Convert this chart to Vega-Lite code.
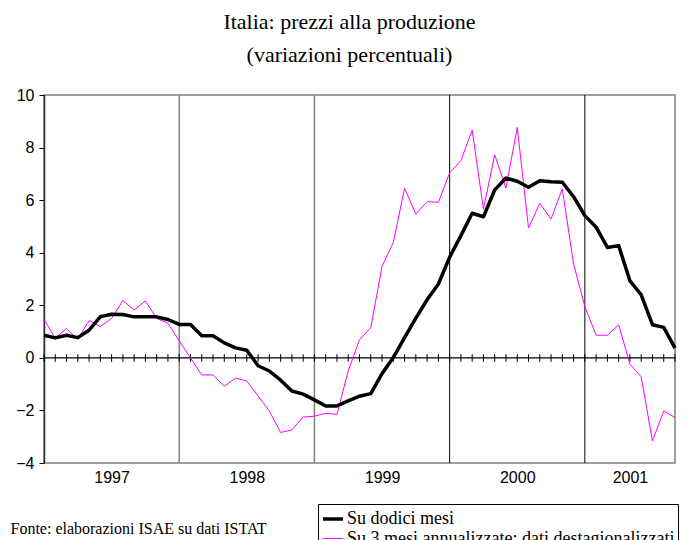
{
  "$schema": "https://vega.github.io/schema/vega-lite/v6.json",
  "width": 631,
  "height": 368,
  "autosize": "none",
  "padding": {"left": 44, "top": 95, "right": 16, "bottom": 77},
  "background": "white",
  "config": {
    "view": {"stroke": "#808080", "strokeWidth": 1.5},
    "font": "Liberation Sans"
  },
  "title": {
    "text": ["Italia: prezzi alla produzione", "(variazioni percentuali)"],
    "font": "Liberation Serif",
    "fontSize": 22,
    "fontWeight": "normal",
    "color": "black",
    "anchor": "middle",
    "baseline": "bottom",
    "lineHeight": 33,
    "offset": -2,
    "dx": -10
  },
  "data": {
    "values": [
      {"mese": "1997-01", "dodici": 0.86, "tre": 1.47},
      {"mese": "1997-02", "dodici": 0.76, "tre": 0.75},
      {"mese": "1997-03", "dodici": 0.86, "tre": 1.12},
      {"mese": "1997-04", "dodici": 0.77, "tre": 0.70},
      {"mese": "1997-05", "dodici": 1.05, "tre": 1.42},
      {"mese": "1997-06", "dodici": 1.57, "tre": 1.19},
      {"mese": "1997-07", "dodici": 1.66, "tre": 1.50},
      {"mese": "1997-08", "dodici": 1.65, "tre": 2.18},
      {"mese": "1997-09", "dodici": 1.56, "tre": 1.82},
      {"mese": "1997-10", "dodici": 1.56, "tre": 2.17},
      {"mese": "1997-11", "dodici": 1.56, "tre": 1.50},
      {"mese": "1997-12", "dodici": 1.46, "tre": 1.32},
      {"mese": "1998-01", "dodici": 1.27, "tre": 0.65},
      {"mese": "1998-02", "dodici": 1.27, "tre": 0.00},
      {"mese": "1998-03", "dodici": 0.84, "tre": -0.65},
      {"mese": "1998-04", "dodici": 0.84, "tre": -0.65},
      {"mese": "1998-05", "dodici": 0.57, "tre": -1.08},
      {"mese": "1998-06", "dodici": 0.38, "tre": -0.77},
      {"mese": "1998-07", "dodici": 0.29, "tre": -0.88},
      {"mese": "1998-08", "dodici": -0.30, "tre": -1.45},
      {"mese": "1998-09", "dodici": -0.50, "tre": -2.02},
      {"mese": "1998-10", "dodici": -0.85, "tre": -2.84},
      {"mese": "1998-11", "dodici": -1.26, "tre": -2.74},
      {"mese": "1998-12", "dodici": -1.38, "tre": -2.25},
      {"mese": "1999-01", "dodici": -1.60, "tre": -2.22},
      {"mese": "1999-02", "dodici": -1.83, "tre": -2.11},
      {"mese": "1999-03", "dodici": -1.83, "tre": -2.15},
      {"mese": "1999-04", "dodici": -1.64, "tre": -0.50},
      {"mese": "1999-05", "dodici": -1.46, "tre": 0.69},
      {"mese": "1999-06", "dodici": -1.36, "tre": 1.15},
      {"mese": "1999-07", "dodici": -0.60, "tre": 3.48},
      {"mese": "1999-08", "dodici": 0.01, "tre": 4.39},
      {"mese": "1999-09", "dodici": 0.77, "tre": 6.45},
      {"mese": "1999-10", "dodici": 1.51, "tre": 5.47},
      {"mese": "1999-11", "dodici": 2.21, "tre": 5.94},
      {"mese": "1999-12", "dodici": 2.81, "tre": 5.92},
      {"mese": "2000-01", "dodici": 3.83, "tre": 7.04},
      {"mese": "2000-02", "dodici": 4.65, "tre": 7.50},
      {"mese": "2000-03", "dodici": 5.50, "tre": 8.67},
      {"mese": "2000-04", "dodici": 5.37, "tre": 5.66},
      {"mese": "2000-05", "dodici": 6.39, "tre": 7.72},
      {"mese": "2000-06", "dodici": 6.84, "tre": 6.46},
      {"mese": "2000-07", "dodici": 6.72, "tre": 8.77},
      {"mese": "2000-08", "dodici": 6.49, "tre": 4.94},
      {"mese": "2000-09", "dodici": 6.74, "tre": 5.88},
      {"mese": "2000-10", "dodici": 6.70, "tre": 5.28},
      {"mese": "2000-11", "dodici": 6.68, "tre": 6.43},
      {"mese": "2000-12", "dodici": 6.13, "tre": 3.57},
      {"mese": "2001-01", "dodici": 5.41, "tre": 1.95},
      {"mese": "2001-02", "dodici": 4.97, "tre": 0.86},
      {"mese": "2001-03", "dodici": 4.20, "tre": 0.86},
      {"mese": "2001-04", "dodici": 4.27, "tre": 1.26},
      {"mese": "2001-05", "dodici": 2.93, "tre": -0.24},
      {"mese": "2001-06", "dodici": 2.40, "tre": -0.72},
      {"mese": "2001-07", "dodici": 1.26, "tre": -3.16},
      {"mese": "2001-08", "dodici": 1.16, "tre": -2.02},
      {"mese": "2001-09", "dodici": 0.37, "tre": -2.27}
    ]
  },
  "encoding": {
    "x": {
      "field": "mese",
      "type": "ordinal",
      "scale": {"type": "point", "padding": 0},
      "axis": {
        "values": ["1997-07", "1998-07", "1999-07", "2000-07", "2001-05"],
        "labelExpr": "slice(datum.value, 0, 4)",
        "labelAngle": 0,
        "labelFont": "Liberation Sans",
        "labelFontSize": 16,
        "labelColor": "black",
        "labelPadding": 6,
        "ticks": false,
        "domain": false,
        "grid": false,
        "title": "Fonte: elaborazioni ISAE su dati ISTAT",
        "titleFont": "Liberation Serif",
        "titleFontSize": 16,
        "titleFontWeight": "normal",
        "titleColor": "black",
        "titleAnchor": "start",
        "titleAlign": "left",
        "titleBaseline": "alphabetic",
        "titleX": -34,
        "titleY": 70
      }
    }
  },
  "layer": [
    {
      "transform": [{"filter": {"field": "mese", "oneOf": ["1998-01", "1999-01"]}}],
      "mark": {"type": "rule", "color": "#808080", "strokeWidth": 1.5},
      "encoding": {"x": {"field": "mese", "type": "ordinal"}}
    },
    {
      "transform": [{"filter": {"field": "mese", "oneOf": ["2000-01", "2001-01"]}}],
      "mark": {"type": "rule", "color": "black", "strokeWidth": 1},
      "encoding": {"x": {"field": "mese", "type": "ordinal"}}
    },
    {
      "transform": [{"filter": {"field": "mese", "equal": "1997-01"}}],
      "mark": {"type": "rule", "color": "black", "strokeWidth": 1.2},
      "encoding": {
        "x": {"value": 0},
        "x2": {"value": 631},
        "y": {"datum": 0, "type": "quantitative"}
      }
    },
    {
      "mark": {"type": "rule", "color": "black", "strokeWidth": 1},
      "encoding": {
        "x": {"field": "mese", "type": "ordinal"},
        "y": {"datum": 0.14, "type": "quantitative"},
        "y2": {"datum": -0.15}
      }
    },
    {
      "transform": [{"fold": ["tre", "dodici"], "as": ["serie", "v"]}],
      "mark": {"type": "line", "strokeJoin": "round", "strokeCap": "butt"},
      "encoding": {
        "x": {"field": "mese", "type": "ordinal"},
        "y": {
          "field": "v",
          "type": "quantitative",
          "scale": {"domain": [-4, 10], "nice": false, "zero": false},
          "axis": {
            "values": [-4, -2, 0, 2, 4, 6, 8, 10],
            "title": null,
            "grid": false,
            "domainColor": "#333333",
            "domainWidth": 1.5,
            "tickColor": "black",
            "tickSize": 5,
            "labelFont": "Liberation Sans",
            "labelFontSize": 16,
            "labelColor": "black",
            "labelPadding": 5
          }
        },
        "color": {
          "field": "serie",
          "type": "nominal",
          "scale": {"domain": ["dodici", "tre"], "range": ["black", "#FF00FF"]},
          "legend": {
            "title": null,
            "orient": "none",
            "legendX": 274,
            "legendY": 409,
            "strokeColor": "black",
            "fillColor": "white",
            "padding": 3,
            "symbolType": "stroke",
            "symbolSize": 400,
            "labelFont": "Liberation Serif",
            "labelFontSize": 18,
            "labelColor": "black",
            "labelOffset": 2,
            "rowPadding": 0,
            "labelLimit": 400,
            "labelExpr": "datum.label == 'dodici' ? 'Su dodici mesi' : 'Su 3 mesi annualizzate: dati destagionalizzati'"
          }
        },
        "strokeWidth": {
          "field": "serie",
          "type": "nominal",
          "scale": {"domain": ["dodici", "tre"], "range": [3.5, 1]},
          "legend": null
        },
        "order": {"field": "serie", "sort": "descending"}
      }
    }
  ]
}
